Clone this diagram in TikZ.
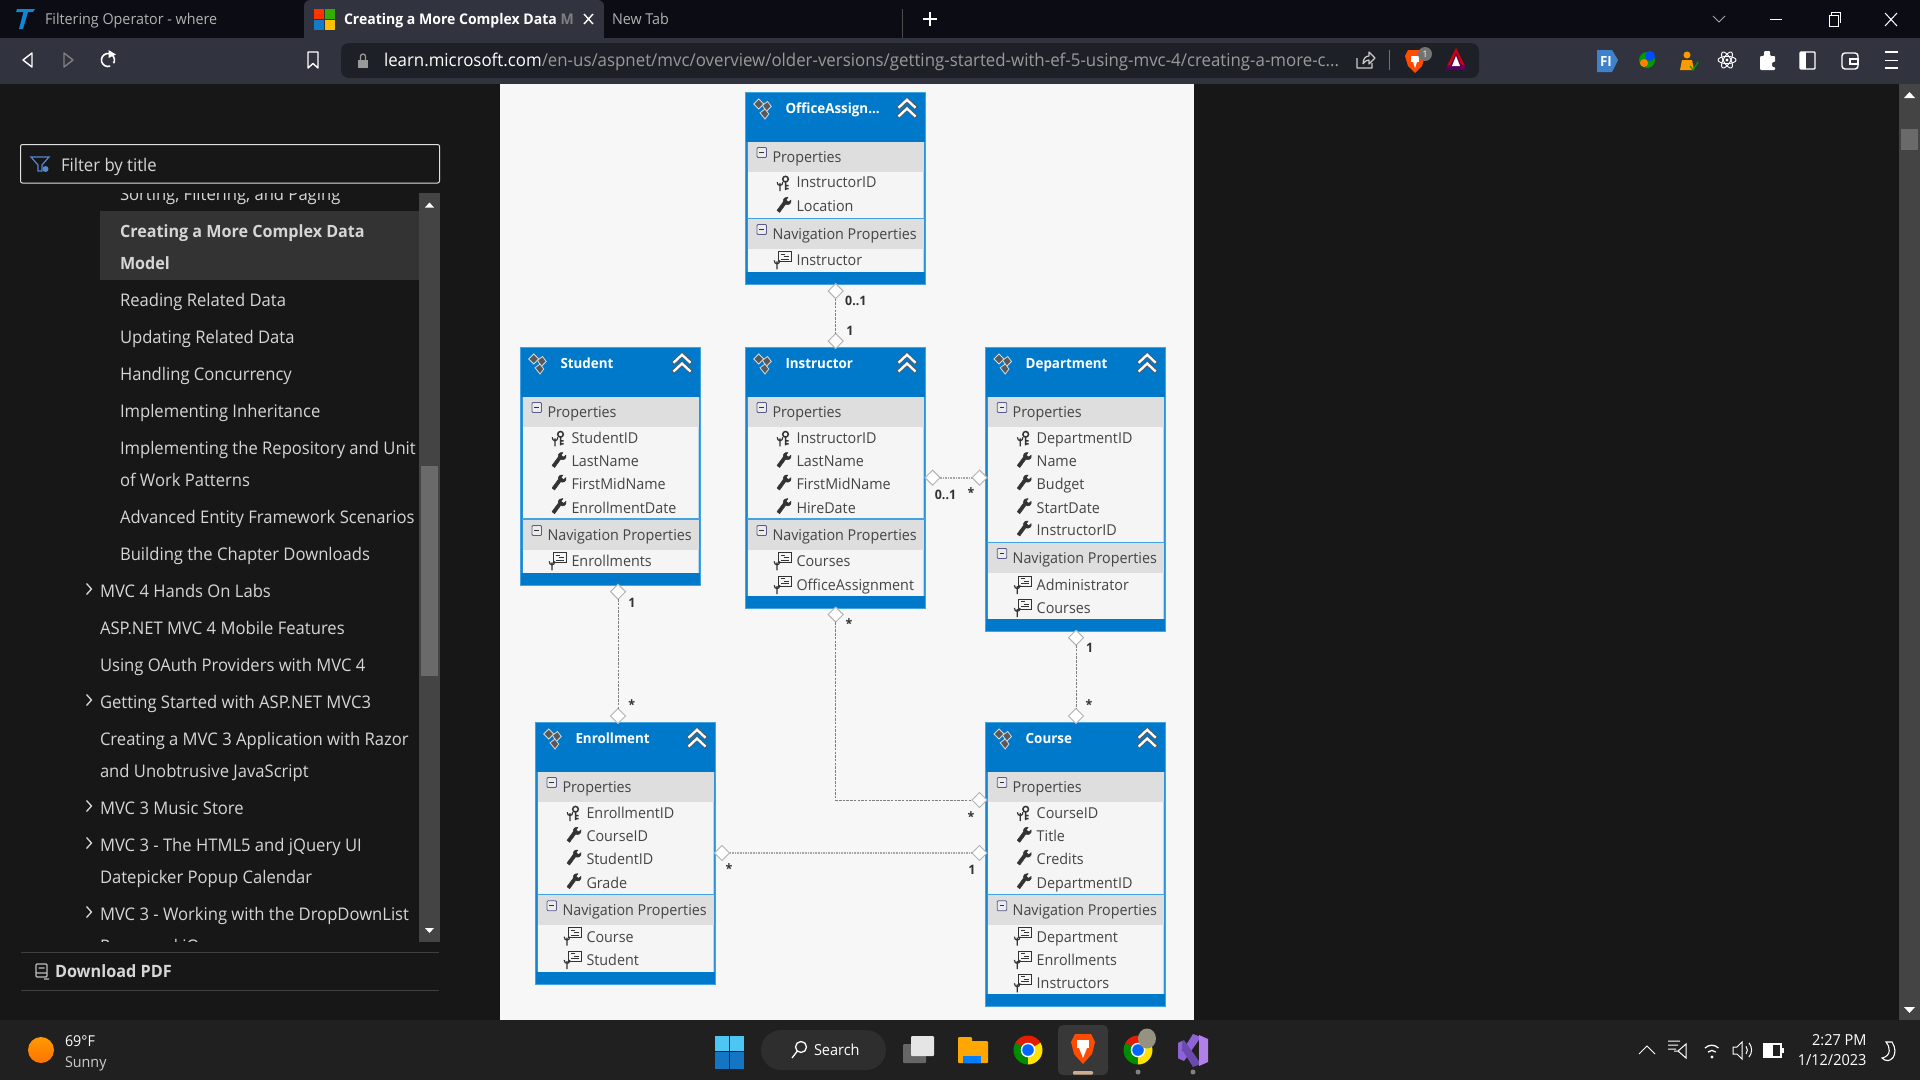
\documentclass[tikz,border=0pt]{standalone}
\usepackage{fontspec}
\setmainfont[FakeStretch=0.955]{Open Sans}
\usetikzlibrary{shapes.geometric}
\definecolor{barA}{HTML}{0B0C14}
\definecolor{barB}{HTML}{31343F}
\definecolor{addr}{HTML}{1E2028}
\definecolor{body}{HTML}{171717}
\definecolor{task}{HTML}{202020}
\definecolor{page}{HTML}{F7F7F7}
\definecolor{erblue}{HTML}{0079CB}
\definecolor{eredge}{HTML}{43A2E2}
\definecolor{erband}{HTML}{DEDEDE}
\definecolor{errow}{HTML}{F5F5F5}
\definecolor{ertext}{HTML}{444444}
\definecolor{eric}{HTML}{333333}
\definecolor{sidetx}{HTML}{D6D6D6}
\definecolor{track}{HTML}{444444}
\definecolor{thumb}{HTML}{6A6A6A}
\definecolor{urlgray}{HTML}{9A9A9A}
\definecolor{vslight}{HTML}{B180E8}
\definecolor{vsmid}{HTML}{8F63D8}
\definecolor{vsdark}{HTML}{6A4AB0}
\newcount\nn
\newcommand\stepnid{\global\advance\nn by 1 }
\tikzset{
  lbl/.style={inner sep=0pt,outer sep=0pt},
  erbox/.style={draw=eredge,fill=erblue,line width=1pt,minimum width=180pt,anchor=north west,inner sep=0pt,outer sep=0pt},
  dmd/.style={diamond,draw=black!30,fill=white,line width=1pt,minimum width=15pt,minimum height=15pt,inner sep=0pt,outer sep=0pt},
  conn/.style={draw=black!50,line width=1pt,dash pattern=on 2.5pt off 1.2pt},
  connh/.style={draw=black!35,line width=1.7pt,dash pattern=on 1.6pt off 1pt},
  mult/.style={lbl,font=\fontsize{13}{15}\selectfont\bfseries,text=black!80}
}
% sidebar text
\newcommand\sidet[4][sidetx]{\stepnid\node[lbl,anchor=base west,text=#1,font=\fontsize{17.4}{20}\selectfont] (n\the\nn) at (#2,#3+6.3) {#4};}
\newcommand\sidebold[3]{\stepnid\node[lbl,anchor=base west,text=sidetx,font=\fontsize{16.9}{20}\selectfont\bfseries] (n\the\nn) at (#1,#2+6.3) {#3};}
\newcommand\chev[1]{\draw[sidetx,line width=1.3pt] (86.5,#1-5.5) -- (91.5,#1) -- (86.5,#1+5.5);}
% ER icons and rows
\newcommand\fork[2]{\draw[eric,line width=1.2pt] (#1,#2-2) -- (#1,#2+6) (#1-2.8,#2-3) .. controls (#1-2.8,#2+1.5) and (#1+2.8,#2+1.5) .. (#1+2.8,#2-3);}
\newcommand\wrenchic[2]{\filldraw[eric,line width=.5pt,line join=round] (#1+4,#2-8) -- (#1+2,#2-5.4) -- (#1+4.6,#2-3.4) -- (#1+7,#2-5.4) .. controls (#1+7.6,#2-1.5) and (#1+4.4,#2) .. (#1+1.6,#2-1.2) -- (#1-4.4,#2+7) -- (#1-7,#2+5) -- (#1-0.8,#2-3.4) .. controls (#1-1.2,#2-6.6) and (#1+1,#2-8.4) .. (#1+4,#2-8) -- cycle;}
\newcommand\erWrench[3]{\wrenchic{#1+38.5}{#2-1}\stepnid\node[lbl,anchor=base west,text=ertext,font=\fontsize{15}{18}\selectfont] (n\the\nn) at (#1+51,#2+5.3) {#3};}
\newcommand\erKey[3]{\draw[eric,line width=1.5pt] (#1+40,#2-3.5) circle (2.8pt) (#1+40,#2-.8) -- (#1+40,#2+7.5) (#1+40,#2+3) -- (#1+43,#2+3) (#1+40,#2+6) -- (#1+43,#2+6);\fork{#1+34.5}{#2+2.5}\stepnid\node[lbl,anchor=base west,text=ertext,font=\fontsize{15}{18}\selectfont] (n\the\nn) at (#1+51,#2+5.3) {#3};}
\newcommand\erNav[3]{\draw[eric,line width=.9pt,fill=errow] (#1+33,#2-9) rectangle (#1+45.5,#2+1);\draw[eric,line width=.8pt] (#1+35.5,#2-6.5) -- (#1+39,#2-6.5) (#1+38,#2-4) -- (#1+43,#2-4) (#1+35.5,#2-1.5) -- (#1+43,#2-1.5);\fork{#1+31.5}{#2+3}\stepnid\node[lbl,anchor=base west,text=ertext,font=\fontsize{15}{18}\selectfont] (n\the\nn) at (#1+51,#2+5.3) {#3};}
% band: x, ytop, text
\newcommand\erBand[3]{\fill[erband] (#1+2,#2) rectangle (#1+178,#2+29.5);
  \draw[black!35!blue!30!gray,line width=.8pt,fill=white!92!black,rounded corners=1pt] (#1+11.5,#2+5.5) rectangle (#1+21,#2+15.5);\draw[black!80,line width=1.3pt] (#1+13.8,#2+10.5) -- (#1+18.7,#2+10.5);
  \stepnid\node[lbl,anchor=base west,text=ertext,font=\fontsize{15}{18}\selectfont] (n\the\nn) at (#1+27,#2+20) {#3};}
% entity: name, x, ytop, ybottom, title
\newcommand\erEntity[5]{\node[erbox,minimum height=#4pt-#3pt] (#1) at (#2,#3) {};
  \fill[errow] (#2+2,#3+50) rectangle (#2+178,#4-12.5);
  \fill[eredge] (#2+1,#3+50) rectangle (#2+2,#4-12.5) (#2+178,#3+50) rectangle (#2+179,#4-12.5);
  \begin{scope}[shift={(#2+17,#3+17)},scale=1.25]
    \draw[white!85!black,line width=.8pt,fill=black!65] (-7,-4) -- (-3,-8) -- (1,-4) -- (-3,0) -- cycle;
    \draw[white!85!black,line width=.8pt,fill=black!65] (0,-3) -- (4,-6) -- (7,-2) -- (3,2) -- cycle;
    \draw[white!85!black,line width=.8pt,fill=black!65] (-2,3) -- (2,0) -- (5,4) -- (2,8) -- cycle;
  \end{scope}
  \begin{scope}[shift={(#2+161.5,#3+17)},scale=1.25]
    \draw[black!65,line width=4pt] (-7.5,-.5) -- (0,-7.5) -- (7.5,-.5) (-7.5,6.5) -- (0,-.5) -- (7.5,6.5);
    \draw[white,line width=2.3pt] (-6.8,-1) -- (0,-7.4) -- (6.8,-1) (-6.8,6) -- (0,-.4) -- (6.8,6);
  \end{scope}
  \node[lbl,anchor=base west,text=white,font=\fontsize{14}{16}\selectfont\bfseries] (#1t) at (#2+40,#3+21) {#5};}
\newcommand\navline[3]{\fill[eredge] (#1+1,#2-1) rectangle (#1+179,#2+.5);}
% chrome logo: x, y
\newcommand\chromeic[2]{\fill[red!75!orange!90!black] (#1,#2) -- +(150:14.5pt) arc (150:30:14.5pt) -- cycle;
  \fill[green!55!black] (#1,#2) -- +(150:14.5pt) arc (150:270:14.5pt) -- cycle;
  \fill[yellow!85!orange] (#1,#2) -- +(270:14.5pt) arc (270:390:14.5pt) -- cycle;
  \fill[white] (#1,#2) circle (7.3pt);
  \fill[blue!60!cyan] (#1,#2) circle (5.8pt);}
\begin{document}
\begin{tikzpicture}[x=1pt,y=-1pt]
\useasboundingbox (0,0) rectangle (1920,1080);
% backgrounds
\fill[body] (0,0) rectangle (1920,1080);
\fill[barA] (0,0) rectangle (1920,38);
\fill[barB] (0,38) rectangle (1920,84);
\fill[page] (500,84) rectangle (1194,1020);
\fill[task] (0,1020) rectangle (1920,1080);
% tabs
\fill[barB,rounded corners=6pt] (304,38) -- (304,0) -- (604,0) -- (604,38) -- cycle;
\fill[barB] (304,10) rectangle (604,38);
\fill[cyan!70!blue] (24,9) -- (35,9) -- (33,12) -- (28,12) -- (23,29) -- (19,29) -- (23.5,12) -- (16,12) -- (17,9) -- cycle;
\node[lbl,anchor=base west,text=black!30,font=\fontsize{15}{16}\selectfont] (tab1) at (45,24) {Filtering Operator - where};
\fill[red!60!orange] (314,9) rectangle (324,19);
\fill[green!60!black!80!yellow] (325,9) rectangle (335,19);
\fill[cyan!60!blue] (314,20) rectangle (324,30);
\fill[orange!50!yellow] (325,20) rectangle (335,30);
\node[lbl,anchor=base west,text=white,font=\fontsize{14.7}{16}\selectfont\bfseries] (tab2) at (344,24) {Creating a More Complex Data \textcolor{black!50}{M}};
\draw[white,line width=1.4pt] (584,14) -- (593,24) (593,14) -- (584,24);
\node[lbl,anchor=base west,text=black!30,font=\fontsize{15}{16}\selectfont] (tab3) at (612,24) {New Tab};
\draw[black!70,line width=.8pt] (902,9) -- (902,38);
\draw[white,line width=2pt] (923,19) -- (937,19) (930,12) -- (930,26);
\draw[black!35,line width=.8pt] (1713,16) -- (1719,22) -- (1725,16);
\draw[white,line width=1pt] (1770,19) -- (1782,19);
\draw[white,line width=1pt] (1829,15) rectangle (1838,26) (1831,15) -- (1831,12) -- (1840,12) -- (1840,23);
\draw[white,line width=1pt] (1885,13) -- (1897,26) (1897,13) -- (1885,26);
% toolbar
\draw[white,line width=1.4pt,line join=round] (32,53) -- (23,60) -- (32,67) -- cycle;
\draw[black!50,line width=1.4pt,line join=round] (64,53) -- (73,60) -- (64,67) -- cycle;
\draw[white,line width=1.6pt] (113.6,63.25) arc (-30:290:6.5pt);
\fill[white] (108.5,50) -- (116,54.5) -- (108.5,58) -- cycle;
\draw[white,line width=1.4pt,line join=round] (308,52) -- (318,52) -- (318,68) -- (313,63.5) -- (308,68) -- cycle;
\fill[addr,rounded corners=8pt] (341,43) rectangle (1479,78);
\fill[black!40] (358,60) rectangle (368,68);
\draw[black!40,line width=1.3pt] (360.5,60) -- (360.5,56.5) arc (180:0:2.5pt) -- (365.5,60);
\node[lbl,anchor=base west,font=\fontsize{17.65}{18}\selectfont,text=urlgray] (url) at (384,66.5) {\textcolor{white}{learn.microsoft.com}/en-us/aspnet/mvc/overview/older-versions/getting-started-with-ef-5-using-mvc-4/creating-a-more-c...};
\draw[black!20,line width=1.2pt,line join=round] (1357,58) -- (1357,68) -- (1372,68) -- (1372,63) (1363,64) .. controls (1363,58) and (1366,56) .. (1369,56) -- (1369,52) -- (1375,58) -- (1369,64) -- (1369,60) .. controls (1367,60) and (1365,61) .. (1363,64);
\draw[black!55,line width=.8pt] (1389,50) -- (1389,70);
\fill[orange!60!red] (1408,50) -- (1422,50) -- (1425,56) -- (1422,66) -- (1415,73) -- (1408,66) -- (1405,56) -- cycle;
\fill[white] (1411,56) rectangle (1419,62);\fill[white] (1413,62) -- (1417,62) -- (1415,68) -- cycle;
\fill[black!55] (1425,54) circle (7pt);
\node[lbl,text=white,font=\fontsize{9}{10}\selectfont] (brv) at (1425,54) {1};
\fill[violet!70!black] (1445,70) -- (1456,48) -- (1467,70) -- cycle;
\fill[red!85!black] (1447,66) -- (1456,48) -- (1465,66) -- (1461,64) -- (1456,52) -- (1451,64) -- cycle;
\fill[white] (1452,66) -- (1456,56) -- (1460,66) -- cycle;
\fill[cyan!50!blue!80] (1597,50) -- (1612,50) -- (1618,60) -- (1612,72) -- (1597,72) -- cycle;
\node[lbl,text=white,font=\fontsize{14}{16}\selectfont\bfseries] (fi) at (1606,61) {FI};
\fill[green!60!black] (1647,60) circle (8pt);
\fill[blue!70!cyan] (1650,56) circle (5pt);
\fill[orange] (1644,63) circle (4pt);
\fill[orange!80!yellow] (1687,55) circle (3.5pt);
\fill[orange!80!yellow] (1680,70) -- (1682,60) -- (1692,60) -- (1694,70) -- cycle;
\draw[green!60!black,line width=1.2pt] (1690,66) -- (1693,70) -- (1698,62);
\begin{scope}[shift={(1727,60)}]
\fill[white] (0,0) circle (1.6pt);
\draw[white,line width=.9pt] (0,0) ellipse (9pt and 3.6pt);
\draw[white,line width=.9pt,rotate=60] (0,0) ellipse (9pt and 3.6pt);
\draw[white,line width=.9pt,rotate=-60] (0,0) ellipse (9pt and 3.6pt);
\end{scope}
\fill[white,rounded corners=1pt] (1760,56) -- (1764,56) -- (1764,51) -- (1770,51) -- (1770,56) -- (1775,56) -- (1775,62) -- (1772,62) -- (1772,67) -- (1775,67) -- (1775,70) -- (1760,70) -- cycle;
\draw[white,line width=1.4pt,rounded corners=1pt] (1800,52) rectangle (1815,69);
\fill[white] (1800,52) rectangle (1806,69);
\draw[white,line width=1.4pt,rounded corners=3pt] (1842,53) rectangle (1858,69);
\draw[white,line width=1.4pt] (1850,59) rectangle (1858,64);
\draw[white,line width=1.8pt] (1885,52) -- (1898,52) (1885,60.5) -- (1898,60.5) (1885,68) -- (1898,68);
% right scrollbar
\fill[track] (1899,84) rectangle (1920,1020);
\fill[thumb] (1901,129) rectangle (1918,150);
\fill[white] (1904,98) -- (1909.5,92) -- (1915,98) -- cycle;
\fill[white] (1904,1007) -- (1909.5,1013) -- (1915,1007) -- cycle;
% sidebar
\draw[black!12,line width=1pt,rounded corners=2pt] (20.5,144.5) rectangle (439.5,183);
\draw[cyan!45!blue!70!white,line width=1.2pt] (31,157) -- (49,157) -- (42,165) -- (42,171) -- (38,171) -- (38,165) -- cycle;
\fill[cyan!45!blue!70!white] (45.5,169) circle (3pt);
\node[lbl,anchor=base west,text=sidetx,font=\fontsize{17.5}{20}\selectfont] (flt) at (61,171) {Filter by title};
\fill[track] (419,193) rectangle (440,941.7);
\fill[thumb] (421,466) rectangle (438,676);
\fill[white] (425,207.5) -- (429.5,202.5) -- (434,207.5) -- cycle;
\fill[white] (425,928) -- (429.5,933) -- (434,928) -- cycle;
\fill[black!80!white] (100,211) rectangle (419,280);
\begin{scope}
\clip (60,193) rectangle (419,941.7);
\sidet{120}{194}{Sorting, Filtering, and Paging}
\sidebold{120}{230.7}{Creating a More Complex Data}
\sidebold{120}{262.7}{Model}
\sidet{120}{300}{Reading Related Data}
\sidet{120}{337}{Updating Related Data}
\sidet{120}{374}{Handling Concurrency}
\sidet{120}{411}{Implementing Inheritance}
\sidet{120}{447.7}{Implementing the Repository and Unit}
\sidet{120}{480}{of Work Patterns}
\sidet{120}{517}{Advanced Entity Framework Scenarios}
\sidet{120}{554}{Building the Chapter Downloads}
\sidet{100}{591}{MVC 4 Hands On Labs}
\sidet{100}{628}{ASP.NET MVC 4 Mobile Features}
\sidet{100}{665}{Using OAuth Providers with MVC 4}
\sidet{100}{702}{Getting Started with ASP.NET MVC3}
\sidet{100}{739}{Creating a MVC 3 Application with Razor}
\sidet{100}{771}{and Unobtrusive JavaScript}
\sidet{100}{808}{MVC 3 Music Store}
\sidet{100}{845}{MVC 3 - The HTML5 and jQuery UI}
\sidet{100}{877}{Datepicker Popup Calendar}
\sidet{100}{914}{MVC 3 - Working with the DropDownList}
\sidet{100}{946}{Razor and jQuery}
\chev{589}\chev{700}\chev{806}\chev{843}\chev{912}
\end{scope}
\draw[black!75,line width=1pt] (21,952) -- (439,952) (21,990) -- (439,990);
\draw[black!25,line width=1.1pt,rounded corners=1pt] (36,964) -- (36,977) -- (47,977) -- (47,964) -- cycle (38.5,968) -- (44.5,968) (36,973) -- (47,973) (44,979) -- (49,979);
\node[lbl,anchor=base west,text=sidetx,font=\fontsize{17}{20}\selectfont\bfseries] (dl) at (55,977) {Download PDF};
% ===== entities =====
\erEntity{office}{745.5}{92}{284}{OfficeAssign...}
\erBand{745.5}{142}{Properties}
\erKey{745.5}{182.6}{InstructorID}
\erWrench{745.5}{206.4}{Location}
\navline{745.5}{218.8}{}
\erBand{745.5}{219}{Navigation Properties}
\erNav{745.5}{260.4}{Instructor}
\erEntity{student}{520.5}{347}{585.5}{Student}
\erBand{520.5}{397}{Properties}
\erKey{520.5}{437.8}{StudentID}
\erWrench{520.5}{461.5}{LastName}
\erWrench{520.5}{484}{FirstMidName}
\erWrench{520.5}{507.7}{EnrollmentDate}
\navline{520.5}{519.4}{}
\erBand{520.5}{520}{Navigation Properties}
\erNav{520.5}{561.4}{Enrollments}
\erEntity{instructor}{745.5}{347}{608.6}{Instructor}
\erBand{745.5}{397}{Properties}
\erKey{745.5}{437.8}{InstructorID}
\erWrench{745.5}{461.5}{LastName}
\erWrench{745.5}{484}{FirstMidName}
\erWrench{745.5}{507.7}{HireDate}
\navline{745.5}{519.4}{}
\erBand{745.5}{520}{Navigation Properties}
\erNav{745.5}{561.4}{Courses}
\erNav{745.5}{585.2}{OfficeAssignment}
\erEntity{department}{985.7}{347}{631.7}{Department}
\erBand{985.7}{397}{Properties}
\erKey{985.7}{437.8}{DepartmentID}
\erWrench{985.7}{461.5}{Name}
\erWrench{985.7}{484}{Budget}
\erWrench{985.7}{507.7}{StartDate}
\erWrench{985.7}{530}{InstructorID}
\navline{985.7}{542.5}{}
\erBand{985.7}{543}{Navigation Properties}
\erNav{985.7}{585.2}{Administrator}
\erNav{985.7}{608}{Courses}
\erEntity{enrollment}{535.5}{722}{984}{Enrollment}
\erBand{535.5}{772}{Properties}
\erKey{535.5}{812.7}{EnrollmentID}
\erWrench{535.5}{836.3}{CourseID}
\erWrench{535.5}{859}{StudentID}
\erWrench{535.5}{882.7}{Grade}
\navline{535.5}{894.7}{}
\erBand{535.5}{895.3}{Navigation Properties}
\erNav{535.5}{936.7}{Course}
\erNav{535.5}{960}{Student}
\erEntity{course}{985.7}{722}{1006.7}{Course}
\erBand{985.7}{772}{Properties}
\erKey{985.7}{812.7}{CourseID}
\erWrench{985.7}{836.3}{Title}
\erWrench{985.7}{859}{Credits}
\erWrench{985.7}{882.7}{DepartmentID}
\navline{985.7}{894.7}{}
\erBand{985.7}{895.3}{Navigation Properties}
\erNav{985.7}{936.7}{Department}
\erNav{985.7}{960}{Enrollments}
\erNav{985.7}{983.3}{Instructors}
% ===== connectors =====
\node[dmd] (d1a) at (835.7,291) {};
\node[dmd] (d1b) at (835.7,341) {};
\node[dmd] (d2a) at (932.5,477.7) {};
\node[dmd] (d2b) at (979.5,477.7) {};
\node[dmd] (d3a) at (618,591.7) {};
\node[dmd] (d3b) at (618,716) {};
\node[dmd] (d4a) at (835.7,614.5) {};
\node[dmd] (d4b) at (979.5,800) {};
\node[dmd] (d5a) at (722,853) {};
\node[dmd] (d5b) at (979.5,853) {};
\node[dmd] (d6a) at (1076,637.7) {};
\node[dmd] (d6b) at (1076,716) {};
\draw[conn] (d1a) -- (d1b);
\draw[connh] (d2a) -- (d2b);
\draw[conn] (d3a) -- (d3b);
\draw[conn] (d4a) |- (d4b);
\draw[connh] (d5a) -- (d5b);
\draw[conn] (d6a) -- (d6b);
\node[mult] (m1a) at (855.8,300.7) {0..1};
\node[mult] (m1b) at (850,330.7) {1};
\node[mult] (m2a) at (945.5,495) {0..1};
\node[mult] (m2b) at (971,493) {*};
\node[mult] (m3a) at (632,602.4) {1};
\node[mult] (m3b) at (631.7,705) {*};
\node[mult] (m4a) at (849,624) {*};
\node[mult] (m4b) at (971,817) {*};
\node[mult] (m5a) at (729,869) {*};
\node[mult] (m5b) at (972,870) {1};
\node[mult] (m6a) at (1089.7,648.3) {1};
\node[mult] (m6b) at (1089,705) {*};
% ===== taskbar =====
\shade[top color=orange!80!yellow,bottom color=orange!90!red] (41,1050) circle (13pt);
\node[lbl,anchor=base west,text=white,font=\fontsize{15}{16}\selectfont] (w1) at (65,1046) {69°F};
\node[lbl,anchor=base west,text=black!20,font=\fontsize{15}{16}\selectfont] (w2) at (65,1067) {Sunny};
\fill[cyan!70!white] (715,1036) rectangle (729,1050.5);
\fill[cyan!70!white] (730,1036) rectangle (744,1050.5);
\fill[cyan!55!blue] (715,1052) rectangle (729,1069);
\fill[cyan!55!blue] (730,1052) rectangle (744,1069);
\fill[black!82!white,rounded corners=20pt] (761,1030) rectangle (886,1070);
\draw[white,line width=1.3pt] (801,1047) circle (5.5pt) (797,1051.5) -- (792,1058);
\node[lbl,anchor=base west,text=white,font=\fontsize{15.2}{16}\selectfont] (srch) at (814,1055.5) {Search};
\fill[black!60,rounded corners=1pt] (903,1044) rectangle (926,1063);
\fill[white!90!black,rounded corners=1pt] (911,1036) rectangle (934,1056);
\fill[orange!70!yellow,rounded corners=1pt] (958,1041) rectangle (988,1063);
\fill[orange!70!yellow,rounded corners=1pt] (958,1037) rectangle (972,1043);
\fill[blue!50!cyan] (963,1056) rectangle (981,1063);
\chromeic{1028}{1050}
\fill[black!78!white,rounded corners=5pt] (1058,1025) rectangle (1108,1075);
\fill[orange!60!red] (1075,1034) -- (1091,1034) -- (1095,1042) -- (1092,1054) -- (1083,1064) -- (1074,1054) -- (1071,1042) -- cycle;
\fill[white] (1077,1040) rectangle (1089,1048);\fill[white] (1079,1048) -- (1087,1048) -- (1083,1058) -- cycle;
\fill[orange!30!white!80!black,rounded corners=1pt] (1073,1071) rectangle (1093,1074.5);
\chromeic{1138}{1050}
\fill[black!40!yellow!20!gray] (1147,1038.5) ellipse (9pt and 10pt);
\fill[black!50] (1138,1072) circle (2.5pt);
\fill[vsmid] (1178,1058) -- (1184,1061) -- (1201,1037) -- (1193,1034) -- cycle;
\fill[vsdark] (1178,1043) -- (1184,1040) -- (1201,1064) -- (1193,1067) -- cycle;
\fill[vsmid] (1178,1043) -- (1182,1041) -- (1182,1060) -- (1178,1058) -- cycle;
\fill[vslight] (1199,1035) -- (1208,1039) -- (1208,1062) -- (1199,1066) -- cycle;
\fill[black!50] (1193,1072) circle (2.5pt);
\draw[white,line width=1pt] (1639,1054) -- (1647,1046) -- (1655,1054);
\draw[white,line width=1pt] (1668,1041) -- (1680,1041) (1668,1045) -- (1678,1045) (1668,1049) -- (1676,1049) (1678,1051) -- (1686,1044) -- (1686,1058) -- (1678,1051) -- (1674,1051);
\draw[white,line width=1.3pt] (1705,1048) arc (135:45:9.5pt) (1708,1052) arc (135:45:5.5pt);
\fill[white] (1712,1057) circle (1.7pt);
\draw[white,line width=1pt] (1733,1047) -- (1737,1047) -- (1742,1042) -- (1742,1059) -- (1737,1054) -- (1733,1054) -- cycle (1746,1054) arc (-40:40:6pt) (1749,1057) arc (-40:40:11pt);
\draw[white,line width=1.2pt] (1764,1044) rectangle (1781,1057) (1783,1048) -- (1783,1053);
\fill[white] (1764,1044) rectangle (1773,1057);
\node[lbl,anchor=east,text=white,font=\fontsize{15.2}{16}\selectfont] (clk1) at (1866.5,1040) {2:27 PM};
\node[lbl,anchor=east,text=white,font=\fontsize{15.2}{16}\selectfont] (clk2) at (1866.5,1060) {1/12/2023};
\draw[white,line width=1.1pt] (1886,1042) .. controls (1890,1046) and (1892,1056) .. (1882,1058) .. controls (1890,1066) and (1900,1054) .. (1892,1042) -- cycle;
\end{tikzpicture}
\end{document}
